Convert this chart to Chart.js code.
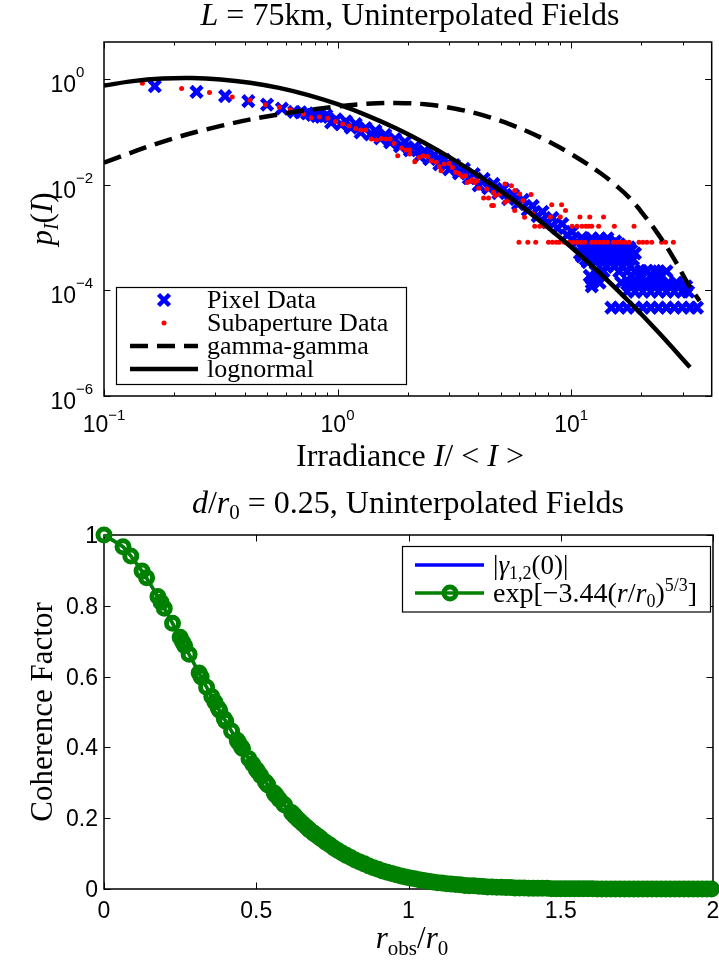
<!DOCTYPE html>
<html>
<head>
<meta charset="utf-8">
<script src="https://cdn.jsdelivr.net/npm/chart.js@4.4.1/dist/chart.umd.min.js"></script>
<style>
  html, body { margin: 0; padding: 0; background: #fff; overflow: hidden; }
  canvas { position: absolute; left: 0; }
  #pdfChart { top: 0; }
  #cohChart { top: 480px; }
</style>
</head>
<body>
<canvas id="pdfChart" width="724" height="480"></canvas>
<canvas id="cohChart" width="724" height="486"></canvas>
<script>
// ---------- top panel: irradiance pdf ----------
const pixelI = [
  0.165, 0.249, 0.330, 0.415, 0.499, 0.578, 0.652, 0.695, 0.741, 0.781, 0.817,
  0.852, 0.895, 0.939, 0.986, 1.034, 1.086, 1.140, 1.196, 1.256, 1.318,
  1.384, 1.453, 1.525, 1.601, 1.680, 1.763, 1.851, 1.943, 2.039, 2.141,
  2.247, 2.359, 2.476, 2.599, 2.728, 2.863, 3.006, 3.155, 3.311, 3.476,
  3.648, 3.830, 4.020, 4.220, 4.430, 4.650, 4.880, 5.123, 5.377, 5.644,
  5.924, 6.219, 6.527, 6.852, 7.192, 7.549, 7.924, 8.318, 8.731, 9.165,
  9.620, 10.10, 10.60, 11.13,
  14.88, 16.08, 17.38, 18.78, 20.29, 21.93, 23.70, 25.61, 27.68, 29.91, 32.32, 34.59,
  17.38, 18.78, 20.29, 21.93, 23.70, 25.61, 27.68, 29.91, 31.70,
  12.26, 13.25, 16.40, 17.72, 19.53, 20.69, 22.36, 24.16, 26.12, 28.22,
  12.02, 12.99, 18.07, 19.91, 21.93, 23.70,
  19.91, 21.10, 22.80,
  14.18, 15.32, 16.55, 17.89,
  11.80, 12.74, 13.77, 14.88, 16.08, 17.38,
  11.13, 12.02, 12.99, 14.04, 15.18, 16.40, 17.72,
  11.34, 12.26, 13.25, 14.31, 15.47, 16.72, 18.07,
  11.80, 12.74, 13.77, 14.88, 16.08,
  12.26, 13.25, 14.31,
  11.56, 12.50, 13.51, 14.60, 15.77, 17.04, 18.42,
  10.91, 11.80, 12.74, 13.77, 14.88, 16.08, 17.38, 18.78,
  11.13, 12.02, 12.99, 14.04, 15.18, 16.40, 17.72,
  11.34, 12.26, 13.25, 14.31, 15.47,
  12.74, 13.77, 16.08, 17.38, 18.78, 21.10, 23.70, 25.61,
  12.26, 18.07, 19.53, 21.10, 22.80, 24.64, 26.63, 28.77, 31.10
];
const pixelP = [
  0.728, 0.568, 0.472, 0.380, 0.327, 0.275, 0.238, 0.233, 0.222, 0.209, 0.198,
  0.192, 0.205, 0.150, 0.172, 0.138, 0.158, 0.120, 0.140, 0.097, 0.118,
  0.0890, 0.104, 0.0750, 0.0870, 0.0630, 0.0730, 0.0530, 0.0640, 0.0445, 0.0515,
  0.0342, 0.0432, 0.0302, 0.0363, 0.0242, 0.0293, 0.0195, 0.0235, 0.0163, 0.0198,
  0.0132, 0.0159, 0.0097, 0.0128, 0.00855, 0.0103, 0.00688, 0.00830, 0.00530, 0.00640,
  0.00427, 0.00515, 0.00330, 0.00397, 0.00253, 0.00305, 0.00195, 0.00235, 0.00150, 0.00181,
  0.00111, 0.00128, 0.000820, 0.000985,
  4.7e-5, 4.7e-5, 4.7e-5, 4.7e-5, 4.7e-5, 4.7e-5, 4.7e-5, 4.7e-5, 4.7e-5, 4.7e-5, 4.7e-5, 4.7e-5,
  9.4e-5, 9.4e-5, 9.4e-5, 9.4e-5, 9.4e-5, 9.4e-5, 9.4e-5, 9.4e-5, 9.4e-5,
  1.4e-4, 1.4e-4, 1.4e-4, 1.4e-4, 1.4e-4, 1.4e-4, 1.4e-4, 1.4e-4, 1.4e-4, 1.4e-4,
  1.87e-4, 1.87e-4, 1.87e-4, 1.87e-4, 1.87e-4, 1.87e-4,
  2.34e-4, 2.34e-4, 2.34e-4,
  2.8e-4, 2.8e-4, 2.8e-4, 2.8e-4,
  3.4e-4, 3.4e-4, 3.4e-4, 3.4e-4, 3.4e-4, 3.4e-4,
  4.4e-4, 4.4e-4, 4.4e-4, 4.4e-4, 4.4e-4, 4.4e-4, 4.4e-4,
  5.7e-4, 5.7e-4, 5.7e-4, 5.7e-4, 5.7e-4, 5.7e-4, 5.7e-4,
  7.4e-4, 7.4e-4, 7.4e-4, 7.4e-4, 7.4e-4,
  9.6e-4, 9.6e-4, 9.6e-4,
  3.85e-4, 3.85e-4, 3.85e-4, 3.85e-4, 3.85e-4, 3.85e-4, 3.85e-4,
  4.99e-4, 4.99e-4, 4.99e-4, 4.99e-4, 4.99e-4, 4.99e-4, 4.99e-4, 4.99e-4,
  6.48e-4, 6.48e-4, 6.48e-4, 6.48e-4, 6.48e-4, 6.48e-4, 6.48e-4,
  8.41e-4, 8.41e-4, 8.41e-4, 8.41e-4, 8.41e-4,
  2.28e-4, 2.28e-4, 2.28e-4, 2.28e-4, 2.28e-4, 2.28e-4, 2.28e-4, 2.28e-4,
  1.19e-4, 1.19e-4, 1.19e-4, 1.19e-4, 1.19e-4, 1.19e-4, 1.19e-4, 1.19e-4, 1.19e-4
];

const subI = [
  0.146, 0.215, 0.283, 0.354, 0.422, 0.491, 0.564, 0.628,
  0.714, 0.772, 0.836, 0.909, 0.981, 1.052, 1.121, 1.196,
  1.256, 1.318, 1.397, 1.467, 1.539, 1.612, 1.680, 1.746,
  1.810, 1.882, 1.962, 2.039, 2.039, 2.141, 2.232, 2.320,
  2.435, 2.516, 2.642, 2.728, 2.773, 2.863, 3.006, 3.103,
  3.207, 3.311, 3.420, 3.534, 3.589, 3.673, 3.767, 3.868,
  3.955, 4.020, 4.220, 4.357, 4.430, 4.574, 4.650, 4.650,
  4.726, 4.962, 5.209, 5.209, 5.377, 5.551, 5.737, 5.737,
  6.023, 6.219, 6.322, 6.739, 6.852, 8.262, 9.104, 9.464,
  8.158, 8.990, 10.91, 12.02, 13.77,
  6.987, 7.333, 7.698, 10.10, 10.60, 11.13, 11.56, 11.91, 12.26, 13.12, 15.32, 18.60,
  5.981, 6.527, 7.055, 8.002, 8.318, 8.646, 8.903, 9.343, 9.808, 10.19,
  10.60, 11.02, 11.46, 12.26, 12.74, 13.25, 13.77, 14.31, 15.18, 15.77,
  16.40, 17.04, 17.72, 19.53, 20.29, 21.10, 22.14, 24.40, 25.37, 27.41
];
const subP = [
  0.833, 0.656, 0.556, 0.454, 0.396, 0.326, 0.290, 0.260,
  0.216, 0.184, 0.190, 0.180, 0.156, 0.140, 0.128, 0.115,
  0.108, 0.108, 0.0728, 0.0697, 0.0748, 0.0728, 0.0728, 0.0602,
  0.0352, 0.0493, 0.0451, 0.0451, 0.0380, 0.0272, 0.0327, 0.0352,
  0.0342, 0.0284, 0.0264, 0.0219, 0.0184, 0.0246, 0.0252, 0.0212,
  0.0171, 0.0163, 0.0142, 0.0148, 0.0110, 0.0115, 0.0123, 0.0110,
  0.0119, 0.00851, 0.00561, 0.00829, 0.00561, 0.00402, 0.00716, 0.00402,
  0.00620, 0.00668, 0.0103, 0.00463, 0.00499, 0.00957, 0.00771, 0.00323,
  0.00668, 0.00499, 0.00242, 0.00648, 0.00280, 0.00414, 0.00414, 0.00323,
  2.44e-3, 2.44e-3, 2.44e-3, 2.44e-3, 2.44e-3,
  1.63e-3, 1.63e-3, 1.63e-3, 1.63e-3, 1.63e-3, 1.63e-3, 1.63e-3, 1.63e-3, 1.63e-3, 1.63e-3, 1.63e-3, 1.63e-3,
  8.15e-4, 8.15e-4, 8.15e-4, 8.15e-4, 8.15e-4, 8.15e-4, 8.15e-4, 8.15e-4, 8.15e-4, 8.15e-4,
  8.15e-4, 8.15e-4, 8.15e-4, 8.15e-4, 8.15e-4, 8.15e-4, 8.15e-4, 8.15e-4, 8.15e-4, 8.15e-4,
  8.15e-4, 8.15e-4, 8.15e-4, 8.15e-4, 8.15e-4, 8.15e-4, 8.15e-4, 8.15e-4, 8.15e-4, 8.15e-4
];

const gammaI = [0.1, 0.178, 0.316, 0.562, 1.0, 1.334, 1.778, 2.371, 3.162, 4.217, 5.623, 7.499,
                10.0, 13.34, 15.40, 17.78, 20.54, 23.71, 27.39, 31.62, 35.48];
const gammaP = [0.026, 0.0646, 0.129, 0.214, 0.302, 0.339, 0.351, 0.331, 0.275, 0.204, 0.132, 0.0759,
                0.0380, 0.0166, 0.0100, 0.00562, 0.00263, 0.00112, 4.17e-4, 1.35e-4, 6.3e-5];

const lognI = [0.1, 0.133, 0.178, 0.237, 0.316, 0.422, 0.562, 0.750, 1.0, 1.334, 1.778,
               2.371, 3.162, 4.217, 5.623, 7.499, 10.0, 13.34, 17.78, 23.71, 32.3];
const lognP = [0.748, 0.909, 1.014, 1.040, 0.980, 0.849, 0.676, 0.494, 0.332, 0.205, 0.1165,
               0.0608, 0.0291, 0.01285, 0.0052, 0.00193, 6.6e-4, 2.08e-4, 6.0e-5, 1.59e-5, 3.5e-6];

const pdfXMajor = [0.1, 1, 10];
const pdfXExp = ['\u22121', '0', '1'];
const pdfXMinor = [0.2, 0.3, 0.4, 0.5, 0.6, 0.7, 0.8, 0.9, 2, 3, 4, 5, 6, 7, 8, 9, 20, 30];
const pdfYMajor = [1, 1e-2, 1e-4, 1e-6];
const pdfYExp = ['0', '\u22122', '\u22124', '\u22126'];

// ---------- bottom panel: coherence factor ----------
const rObs = [
  0, 0.0625, 0.088, 0.125, 0.140, 0.177, 0.1875, 0.198, 0.225, 0.25,
  0.258, 0.265, 0.2795, 0.3125, 0.319, 0.337, 0.354, 0.364, 0.375, 0.380,
  0.395, 0.400, 0.419, 0.4375, 0.442, 0.451, 0.455, 0.476, 0.488, 0.5,
  0.504, 0.515, 0.530, 0.534, 0.538, 0.559, 0.5625, 0.566, 0.576, 0.590,
  0.593, 0.616, 0.619, 0.625, 0.628, 0.637, 0.643, 0.653, 0.664, 0.673,
  0.676, 0.6875, 0.690, 0.699, 0.707, 0.713, 0.728, 0.742, 0.755, 0.768,
  0.782, 0.796, 0.81, 0.825, 0.84, 0.855, 0.87, 0.885, 0.9, 0.915,
  0.93, 0.945, 0.96, 0.975, 0.99, 1.005, 1.02, 1.035, 1.05, 1.065,
  1.08, 1.095, 1.11, 1.125, 1.14, 1.155, 1.17, 1.185, 1.2, 1.215,
  1.23, 1.245, 1.26, 1.275, 1.29, 1.305, 1.32, 1.335, 1.35, 1.365,
  1.38, 1.395, 1.41, 1.425, 1.44, 1.455, 1.47, 1.485, 1.5, 1.515,
  1.53, 1.545, 1.56, 1.575, 1.59, 1.605, 1.62, 1.635, 1.65, 1.665,
  1.68, 1.695, 1.71, 1.725, 1.74, 1.755, 1.77, 1.785, 1.8, 1.815,
  1.83, 1.845, 1.86, 1.875, 1.89, 1.905, 1.92, 1.935, 1.95, 1.965,
  1.98, 1.995
];
const coherence = [
  1.000, 0.967, 0.941, 0.898, 0.879, 0.826, 0.810, 0.793, 0.751, 0.711,
  0.698, 0.687, 0.663, 0.610, 0.599, 0.570, 0.544, 0.528, 0.511, 0.504,
  0.481, 0.474, 0.446, 0.420, 0.414, 0.402, 0.397, 0.368, 0.353, 0.338,
  0.333, 0.320, 0.303, 0.299, 0.294, 0.271, 0.267, 0.264, 0.253, 0.240,
  0.237, 0.216, 0.213, 0.208, 0.205, 0.197, 0.192, 0.184, 0.176, 0.169,
  0.166, 0.158, 0.157, 0.151, 0.146, 0.142, 0.132, 0.124, 0.116, 0.109,
  0.102, 0.095, 0.089, 0.082, 0.076, 0.071, 0.065, 0.060, 0.056, 0.051,
  0.047, 0.044, 0.040, 0.037, 0.034, 0.031, 0.029, 0.026, 0.024, 0.022,
  0.020, 0.018, 0.017, 0.015, 0.014, 0.013, 0.012, 0.010, 0.009, 0.009,
  0.008, 0.007, 0.006, 0.006, 0.005, 0.005, 0.004, 0.004, 0.003, 0.003,
  0.003, 0.002, 0.002, 0.002, 0.002, 0.002, 0.001, 0.001, 0.001, 0.001,
  0.001, 0.001, 0.001, 0.001, 0.001, 0.001, 0, 0, 0, 0,
  0, 0, 0, 0, 0, 0, 0, 0, 0, 0,
  0, 0, 0, 0, 0, 0, 0, 0, 0, 0,
  0, 0
];
const gammaR = [0, 0.0625, 0.125, 0.1875, 0.25, 0.3125, 0.375, 0.4375, 0.5, 0.5625, 0.625, 0.6875, 0.75, 0.875, 1.0, 1.125, 1.25, 1.5, 1.75, 2.0];
const gammaMeas = [1.0, 0.966, 0.897, 0.809, 0.710, 0.609, 0.510, 0.419, 0.337, 0.267, 0.207, 0.158, 0.119, 0.064, 0.032, 0.016, 0.007, 0.001, 0.0, 0.0];

const cohXTicks = [0, 0.5, 1, 1.5, 2];
const cohXLabels = ['0', '0.5', '1', '1.5', '2'];
const cohYTicks = [0, 0.2, 0.4, 0.6, 0.8, 1];
const cohYLabels = ['0', '0.2', '0.4', '0.6', '0.8', '1'];

// ---------- text helpers ----------
const SERIF = '"Liberation Serif", "Times New Roman", serif';
const SANS = '"Liberation Sans", Arial, sans-serif';
const rm = (text, size, dy) => ({ text, font: size + 'px ' + SERIF, dy: dy || 0 });
const it = (text, size, dy) => ({ text, font: 'italic ' + size + 'px ' + SERIF, dy: dy || 0 });
const sans = (text, size, dy) => ({ text, font: size + 'px ' + SANS, dy: dy || 0 });

function rich(ctx, parts, x, y, align, angle) {
  ctx.save();
  ctx.translate(x, y);
  if (angle) ctx.rotate(angle);
  ctx.textAlign = 'left';
  ctx.textBaseline = 'alphabetic';
  ctx.fillStyle = '#000';
  let w = 0;
  parts.forEach(p => { ctx.font = p.font; w += ctx.measureText(p.text).width; });
  let cx = align === 'center' ? -w / 2 : align === 'right' ? -w : 0;
  parts.forEach(p => {
    ctx.font = p.font;
    ctx.fillText(p.text, cx, p.dy);
    cx += ctx.measureText(p.text).width;
  });
  ctx.restore();
}

function strokeSegs(ctx, list) {
  ctx.beginPath();
  list.forEach(([x1, y1, x2, y2]) => { ctx.moveTo(x1, y1); ctx.lineTo(x2, y2); });
  ctx.stroke();
}

// ---------- top panel furniture ----------
const pdfFrame = {
  id: 'pdfFrame',
  beforeDatasetsDraw(chart) {
    const { ctx, chartArea: a } = chart;
    const xs = chart.scales.x, ys = chart.scales.y;
    ctx.save();
    ctx.strokeStyle = '#000';
    ctx.lineWidth = 1.5;
    ctx.strokeRect(a.left, a.top, a.right - a.left, a.bottom - a.top);
    ctx.lineWidth = 1;
    const marks = [];
    pdfXMinor.forEach(v => {
      const px = Math.round(xs.getPixelForValue(v)) + 0.5;
      marks.push([px, a.bottom, px, a.bottom - 3.5], [px, a.top, px, a.top + 3.5]);
    });
    pdfXMajor.forEach(v => {
      const px = Math.round(xs.getPixelForValue(v)) + 0.5;
      marks.push([px, a.bottom, px, a.bottom - 6.5], [px, a.top, px, a.top + 6.5]);
    });
    pdfYMajor.forEach(v => {
      const py = Math.round(ys.getPixelForValue(v)) + 0.5;
      marks.push([a.left, py, a.left + 6.5, py], [a.right, py, a.right - 6.5, py]);
    });
    strokeSegs(ctx, marks);

    pdfXMajor.forEach((v, i) => {
      rich(ctx, [sans('10', 23), sans(pdfXExp[i], 15, -12)], xs.getPixelForValue(v), a.bottom + 36, 'center');
    });
    pdfYMajor.forEach((v, i) => {
      rich(ctx, [sans('10', 23), sans(pdfYExp[i], 15, -15)], 50.5, ys.getPixelForValue(v) + 13, 'left');
    });

    rich(ctx, [it('L', 32), rm(' = 75km, Uninterpolated Fields', 32)], 410, 25, 'center');
    rich(ctx, [rm('Irradiance ', 32), it('I', 32), rm('/ < ', 32), it('I', 32), rm(' >', 32)], 410, 466, 'center');
    rich(ctx, [it('p', 31), it('I', 20, 6), rm('(', 31), it('I', 31), rm(')', 31)], 52, (a.top + a.bottom) / 2, 'center', -Math.PI / 2);
    ctx.restore();
  },
  afterDatasetsDraw(chart) {
    const ctx = chart.ctx;
    const names = chart.data.datasets.map(d => d.label);
    ctx.save();
    ctx.fillStyle = '#fff';
    ctx.fillRect(116, 287, 291, 98);
    ctx.strokeStyle = '#000';
    ctx.lineWidth = 1.2;
    ctx.strokeRect(116.5, 287.5, 290, 97);
    // pixel marker
    const d = 5.5;
    ctx.strokeStyle = '#0000ff';
    ctx.lineWidth = 4.5;
    strokeSegs(ctx, [[164 - d, 300 - d, 164 + d, 300 + d], [164 + d, 300 - d, 164 - d, 300 + d]]);
    // subaperture dot
    ctx.fillStyle = '#ff0000';
    ctx.beginPath();
    ctx.arc(164, 323, 2.5, 0, Math.PI * 2);
    ctx.fill();
    // line samples
    ctx.strokeStyle = '#000';
    ctx.lineWidth = 4.5;
    ctx.setLineDash([18, 9]);
    strokeSegs(ctx, [[130, 346, 198, 346]]);
    ctx.setLineDash([]);
    strokeSegs(ctx, [[130, 369, 198, 369]]);
    [300, 323, 346, 369].forEach((y, i) => rich(ctx, [rm(names[i], 26)], 207, y + 8, 'left'));
    ctx.restore();
  }
};

// ---------- bottom panel furniture ----------
const cohFrame = {
  id: 'cohFrame',
  beforeDatasetsDraw(chart) {
    const { ctx, chartArea: a } = chart;
    const xs = chart.scales.x, ys = chart.scales.y;
    ctx.save();
    ctx.strokeStyle = '#000';
    ctx.lineWidth = 1.5;
    ctx.strokeRect(a.left, a.top, a.right - a.left, a.bottom - a.top);
    ctx.lineWidth = 1;
    const marks = [];
    cohXTicks.forEach(v => {
      const px = Math.round(xs.getPixelForValue(v)) + 0.5;
      marks.push([px, a.bottom, px, a.bottom - 6.5], [px, a.top, px, a.top + 6.5]);
    });
    cohYTicks.forEach(v => {
      const py = Math.round(ys.getPixelForValue(v)) + 0.5;
      marks.push([a.left, py, a.left + 6.5, py], [a.right, py, a.right - 6.5, py]);
    });
    strokeSegs(ctx, marks);
    cohXTicks.forEach((v, i) => rich(ctx, [sans(cohXLabels[i], 23)], xs.getPixelForValue(v), a.bottom + 29, 'center'));
    cohYTicks.forEach((v, i) => rich(ctx, [sans(cohYLabels[i], 23)], 98, ys.getPixelForValue(v) + 8, 'right'));

    rich(ctx, [it('d', 32), rm('/', 32), it('r', 32), rm('0', 21, 6), rm(' = 0.25, Uninterpolated Fields', 32)], 408, 33, 'center');
    rich(ctx, [it('r', 31), rm('obs', 21, 7), rm('/', 31), it('r', 31), rm('0', 21, 7)], 412, 468, 'center');
    rich(ctx, [rm('Coherence Factor', 31)], 52, (a.top + a.bottom) / 2, 'center', -Math.PI / 2);
    ctx.restore();
  },
  afterDatasetsDraw(chart) {
    const ctx = chart.ctx;
    ctx.save();
    ctx.fillStyle = '#fff';
    ctx.fillRect(402, 66.5, 308, 65.5);
    ctx.strokeStyle = '#000';
    ctx.lineWidth = 1.2;
    ctx.strokeRect(402.5, 66.5, 308, 65.5);
    ctx.strokeStyle = '#0000ff';
    ctx.lineWidth = 3.5;
    strokeSegs(ctx, [[415, 85, 484, 85]]);
    ctx.strokeStyle = '#008000';
    strokeSegs(ctx, [[415, 113, 484, 113]]);
    ctx.lineWidth = 5;
    ctx.beginPath();
    ctx.arc(450, 113, 6, 0, Math.PI * 2);
    ctx.stroke();
    rich(ctx, [rm('|', 27), it('\u03b3', 27), rm('1,2', 18, 5), rm('(0)|', 27)], 493, 94, 'left');
    rich(ctx, [rm('exp[\u22123.44(', 28), it('r', 28), rm('/', 28), it('r', 28), rm('0', 18, 5),
               rm(')', 28), rm('5/3', 18, -11), rm(']', 28)], 493, 122, 'left');
    ctx.restore();
  }
};

const baseOptions = {
  responsive: false,
  animation: false,
  devicePixelRatio: 1,
  events: [],
  plugins: { legend: { display: false }, tooltip: { enabled: false } }
};

new Chart(document.getElementById('pdfChart'), {
  type: 'scatter',
  data: {
    datasets: [
      {
        label: 'Pixel Data',
        data: pixelI.map((v, i) => ({ x: v, y: pixelP[i] })),
        pointStyle: 'crossRot',
        pointRadius: 7.8,
        pointBorderWidth: 4.5,
        borderColor: '#0000ff',
        pointBorderColor: '#0000ff',
        order: 3
      },
      {
        label: 'Subaperture Data',
        data: subI.map((v, i) => ({ x: v, y: subP[i] })),
        pointStyle: 'circle',
        pointRadius: 2.5,
        pointBorderWidth: 0,
        borderColor: '#ff0000',
        pointBackgroundColor: '#ff0000',
        order: 2
      },
      {
        label: 'gamma-gamma',
        data: gammaI.map((v, i) => ({ x: v, y: gammaP[i] })),
        showLine: true,
        pointRadius: 0,
        borderColor: '#000',
        borderWidth: 4.5,
        borderDash: [18, 9],
        tension: 0.4,
        order: 1
      },
      {
        label: 'lognormal',
        data: lognI.map((v, i) => ({ x: v, y: lognP[i] })),
        showLine: true,
        pointRadius: 0,
        borderColor: '#000',
        borderWidth: 4.5,
        tension: 0.4,
        order: 0
      }
    ]
  },
  options: Object.assign({}, baseOptions, {
    layout: { padding: { left: 104, top: 42, right: 3, bottom: 84 } },
    scales: {
      x: { type: 'logarithmic', min: 0.1, max: 40, display: false },
      y: { type: 'logarithmic', min: 1e-6, max: 5, display: false }
    }
  }),
  plugins: [pdfFrame]
});

new Chart(document.getElementById('cohChart'), {
  type: 'scatter',
  data: {
    datasets: [
      {
        label: 'exp[-3.44(r/r0)^(5/3)]',
        data: rObs.map((v, i) => ({ x: v, y: coherence[i] })),
        showLine: true,
        borderColor: '#008000',
        borderWidth: 3.5,
        pointRadius: 6,
        pointBorderWidth: 5,
        pointBorderColor: '#008000',
        pointBackgroundColor: 'rgba(0,0,0,0)',
        tension: 0,
        clip: false,
        order: 0
      },
      {
        label: '|gamma12(0)|',
        data: gammaR.map((v, i) => ({ x: v, y: gammaMeas[i] })),
        showLine: true,
        borderColor: '#0000ff',
        borderWidth: 3,
        pointRadius: 0,
        tension: 0.3,
        order: 1
      }
    ]
  },
  options: Object.assign({}, baseOptions, {
    layout: { padding: { left: 104, top: 55, right: 3, bottom: 77 } },
    scales: {
      x: { type: 'linear', min: 0, max: 2, display: false },
      y: { type: 'linear', min: 0, max: 1, display: false }
    }
  }),
  plugins: [cohFrame]
});
</script>
</body>
</html>
